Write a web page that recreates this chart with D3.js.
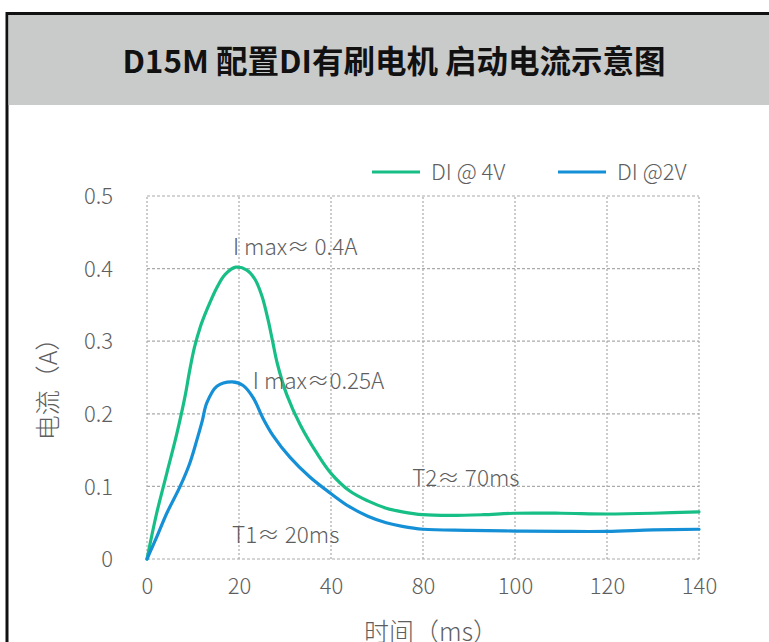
<!DOCTYPE html>
<html><head><meta charset="utf-8">
<script src="https://cdn.jsdelivr.net/npm/d3@7"></script>
<style>
html,body{margin:0;padding:0;background:#fff;}
svg{display:block;}
</style></head>
<body>
<svg id="c" width="769" height="642"></svg>
<script>
const xTickValues = [0, 20, 40, 80, 100, 120, 140];
const xTickLabels = ["0", "20", "40", "80", "100", "120", "140"];
const yTickValues = [0, 0.1, 0.2, 0.3, 0.4, 0.5];
const yTickLabels = ["0", "0.1", "0.2", "0.3", "0.4", "0.5"];

const seriesNames = ["DI @ 4V", "DI @2V"];
const seriesColors = ["#17bf87", "#1590d6"];

const time4V = [0, 2.1, 4.3, 6.5, 8.3, 9.2, 10.3, 11.5, 13, 15.2, 17, 19.3, 21.7, 23.5, 25, 26.3, 27.3, 28.3, 30.4, 33.3, 37, 40, 48, 56, 64, 71, 80, 86, 93, 100, 110, 120, 130, 140];
const current4V = [0, 0.063, 0.118, 0.173, 0.225, 0.257, 0.291, 0.318, 0.343, 0.374, 0.392, 0.402, 0.398, 0.385, 0.362, 0.33, 0.30, 0.27, 0.226, 0.185, 0.145, 0.118, 0.094, 0.080, 0.070, 0.065, 0.061, 0.060, 0.061, 0.063, 0.063, 0.062, 0.063, 0.065];

const time2V = [0, 2.1, 4.3, 7.2, 9.3, 10.8, 12, 13, 15.2, 18.5, 20.9, 23.1, 25.2, 27.4, 31.1, 35.4, 40, 48, 56, 64, 71, 80, 90, 100, 110, 120, 130, 140];
const current2V = [0, 0.03, 0.063, 0.1, 0.132, 0.163, 0.19, 0.215, 0.238, 0.244, 0.239, 0.222, 0.194, 0.17, 0.14, 0.113, 0.09, 0.072, 0.059, 0.050, 0.045, 0.041, 0.0395, 0.0385, 0.038, 0.038, 0.040, 0.041];

const annotations = [
  {text: "I max≈ 0.4A", t: 18.7, v: 0.419},
  {text: "I max≈0.25A", t: 23.0, v: 0.234},
  {text: "T2≈ 70ms", t: 75.3, v: 0.100},
  {text: "T1≈ 20ms", t: 18.5, v: 0.022}
];

const svg = d3.select("#c");
const W = 769, H = 642;
const FONT = "'Noto Sans CJK SC','Noto Sans',sans-serif";
const textColor = "#5e5e5e";

// frame and header
svg.append("rect").attr("x", 7).attr("y", 13.5).attr("width", W + 20).attr("height", H + 20)
  .attr("fill", "#fff").attr("stroke", "#111").attr("stroke-width", 3);
svg.append("rect").attr("x", 8.5).attr("y", 15).attr("width", W).attr("height", 90)
  .attr("fill", "#c9caca");
svg.append("text").attr("x", 394).attr("y", 73).attr("text-anchor", "middle")
  .attr("font-family", FONT).attr("font-weight", 700).attr("font-size", 31.5).attr("fill", "#111")
  .text("D15M 配置DI有刷电机 启动电流示意图");

const x = d3.scaleLinear().domain(xTickValues).range(xTickValues.map((d, i) => 147 + i * 92));
const y = d3.scaleLinear().domain([0, 0.5]).range([559, 196]);

// gridlines
const grid = svg.append("g");
grid.selectAll("line.h").data(yTickValues).join("line")
  .attr("x1", x(0)).attr("x2", x(140)).attr("y1", d => y(d)).attr("y2", d => y(d))
  .attr("stroke", "#aaa").attr("stroke-width", 1.2).attr("stroke-dasharray", "3,2");
grid.selectAll("line.v").data(xTickValues).join("line")
  .attr("y1", y(0)).attr("y2", y(0.5)).attr("x1", d => x(d)).attr("x2", d => x(d))
  .attr("stroke", "#aaa").attr("stroke-width", 1.2).attr("stroke-dasharray", "2,2");

// axes
const xAxis = d3.axisBottom(x).tickValues(xTickValues).tickFormat((d, i) => xTickLabels[i]).tickSize(0).tickPadding(0);
const gx = svg.append("g").attr("transform", `translate(0,586)`).call(xAxis);
gx.select(".domain").remove();
gx.selectAll("text").attr("font-family", FONT).attr("font-weight", 300).attr("font-size", 22).attr("fill", textColor).attr("dy", "0.35em");

const yAxis = d3.axisLeft(y).tickValues(yTickValues).tickFormat((d, i) => yTickLabels[i]).tickSize(0).tickPadding(0);
const gy = svg.append("g").attr("transform", `translate(113,0)`).call(yAxis);
gy.select(".domain").remove();
gy.selectAll("text").attr("font-family", FONT).attr("font-weight", 300).attr("font-size", 22).attr("fill", textColor).attr("dy", "0.35em");

// axis titles
svg.append("text").attr("transform", `translate(48,383) rotate(-90)`).attr("text-anchor", "middle")
  .attr("dy", "0.35em")
  .attr("font-family", FONT).attr("font-weight", 300).attr("font-size", 25).attr("fill", textColor)
  .text("电流（A）");
svg.append("text").attr("x", 431).attr("y", 641).attr("text-anchor", "middle")
  .attr("font-family", FONT).attr("font-weight", 300).attr("font-size", 25).attr("fill", textColor)
  .text("时间（ms）");

// lines
const line = d3.line().x(d => x(d[0])).y(d => y(d[1])).curve(d3.curveCatmullRom.alpha(0.5));
const series = [d3.zip(time4V, current4V), d3.zip(time2V, current2V)];
svg.append("g").selectAll("path").data(series).join("path")
  .attr("d", line).attr("fill", "none")
  .attr("stroke", (d, i) => seriesColors[i]).attr("stroke-width", 3.2)
  .attr("stroke-linejoin", "round").attr("stroke-linecap", "round");

// annotations
svg.append("g").selectAll("text").data(annotations).join("text")
  .attr("x", d => x(d.t)).attr("y", d => y(d.v))
  .attr("font-family", FONT).attr("font-weight", 300).attr("font-size", 22.5).attr("fill", textColor)
  .text(d => d.text);

// legend
const legendX = [372, 558];
const lg = svg.append("g").selectAll("g").data(seriesNames).join("g")
  .attr("transform", (d, i) => `translate(${legendX[i]},172)`);
lg.append("line").attr("x1", 0).attr("x2", 48).attr("y1", 0).attr("y2", 0)
  .attr("stroke", (d, i) => seriesColors[i]).attr("stroke-width", 3.2);
lg.append("text").attr("x", 59).attr("y", 0).attr("dy", "0.35em")
  .attr("font-family", FONT).attr("font-weight", 300).attr("font-size", 22).attr("fill", textColor)
  .text(d => d);
</script>
</body></html>
